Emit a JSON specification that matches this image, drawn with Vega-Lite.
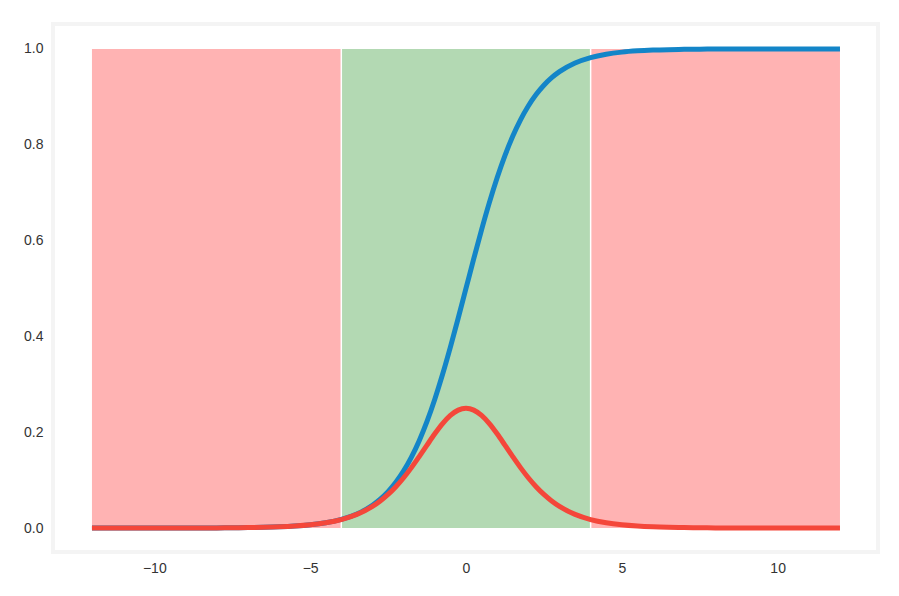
{
  "$schema": "https://vega.github.io/schema/vega-lite/v6.json",
  "width": 825,
  "height": 528,
  "autosize": {"type": "none"},
  "padding": {"left": 53, "top": 24, "right": 21, "bottom": 44},
  "background": "white",
  "config": {
    "view": {"stroke": "#f4f4f4", "strokeWidth": 4},
    "axis": {"grid": false, "domain": false, "ticks": false, "labelFont": "Liberation Sans", "labelFontSize": 14, "labelColor": "#333333"}
  },
  "datasets": {
    "regions": [
      {"x0": -12, "x1": -4, "zone": "out"},
      {"x0": -4, "x1": 4, "zone": "in"},
      {"x0": 4, "x1": 12, "zone": "out"}
    ],
    "bounds": [{"b": -4}, {"b": 4}],
    "curve": [
      {"x": -12, "s": 0.0000061, "d": 0.0000061},
      {"x": -11, "s": 0.0000167, "d": 0.0000167},
      {"x": -10, "s": 0.0000454, "d": 0.0000454},
      {"x": -9, "s": 0.0001234, "d": 0.0001234},
      {"x": -8.5, "s": 0.0002035, "d": 0.0002035},
      {"x": -8, "s": 0.0003354, "d": 0.0003353},
      {"x": -7.5, "s": 0.000553, "d": 0.000553},
      {"x": -7, "s": 0.000911, "d": 0.00091},
      {"x": -6.5, "s": 0.001501, "d": 0.001499},
      {"x": -6, "s": 0.002473, "d": 0.002467},
      {"x": -5.5, "s": 0.00407, "d": 0.004054},
      {"x": -5, "s": 0.006693, "d": 0.006648},
      {"x": -4.5, "s": 0.01099, "d": 0.01087},
      {"x": -4, "s": 0.01799, "d": 0.01766},
      {"x": -3.5, "s": 0.02931, "d": 0.02845},
      {"x": -3, "s": 0.04743, "d": 0.04518},
      {"x": -2.75, "s": 0.06009, "d": 0.05648},
      {"x": -2.5, "s": 0.07586, "d": 0.0701},
      {"x": -2.25, "s": 0.09535, "d": 0.08626},
      {"x": -2, "s": 0.1192, "d": 0.10499},
      {"x": -1.75, "s": 0.14805, "d": 0.12613},
      {"x": -1.5, "s": 0.18243, "d": 0.14915},
      {"x": -1.25, "s": 0.2227, "d": 0.1731},
      {"x": -1, "s": 0.26894, "d": 0.19661},
      {"x": -0.75, "s": 0.32082, "d": 0.2179},
      {"x": -0.5, "s": 0.37754, "d": 0.235},
      {"x": -0.25, "s": 0.43782, "d": 0.24613},
      {"x": 0, "s": 0.5, "d": 0.25},
      {"x": 0.25, "s": 0.56218, "d": 0.24613},
      {"x": 0.5, "s": 0.62246, "d": 0.235},
      {"x": 0.75, "s": 0.67918, "d": 0.2179},
      {"x": 1, "s": 0.73106, "d": 0.19661},
      {"x": 1.25, "s": 0.7773, "d": 0.1731},
      {"x": 1.5, "s": 0.81757, "d": 0.14915},
      {"x": 1.75, "s": 0.85195, "d": 0.12613},
      {"x": 2, "s": 0.8808, "d": 0.10499},
      {"x": 2.25, "s": 0.90465, "d": 0.08626},
      {"x": 2.5, "s": 0.92414, "d": 0.0701},
      {"x": 2.75, "s": 0.93991, "d": 0.05648},
      {"x": 3, "s": 0.95257, "d": 0.04518},
      {"x": 3.5, "s": 0.97069, "d": 0.02845},
      {"x": 4, "s": 0.98201, "d": 0.01766},
      {"x": 4.5, "s": 0.98901, "d": 0.01087},
      {"x": 5, "s": 0.993307, "d": 0.006648},
      {"x": 5.5, "s": 0.99593, "d": 0.004054},
      {"x": 6, "s": 0.997527, "d": 0.002467},
      {"x": 6.5, "s": 0.998499, "d": 0.001499},
      {"x": 7, "s": 0.999089, "d": 0.00091},
      {"x": 7.5, "s": 0.999447, "d": 0.000553},
      {"x": 8, "s": 0.999665, "d": 0.0003353},
      {"x": 8.5, "s": 0.999797, "d": 0.0002035},
      {"x": 9, "s": 0.999877, "d": 0.0001234},
      {"x": 10, "s": 0.999955, "d": 0.0000454},
      {"x": 11, "s": 0.999983, "d": 0.0000167},
      {"x": 12, "s": 0.999994, "d": 0.0000061}
    ]
  },
  "layer": [
    {
      "data": {"name": "regions"},
      "mark": {"type": "rect", "opacity": 1},
      "encoding": {
        "x": {"field": "x0", "type": "quantitative", "scale": {"domain": [-13.25, 13.22], "nice": false, "zero": false}, "axis": {"values": [-10, -5, 0, 5, 10], "title": null, "labelPadding": 9}},
        "x2": {"field": "x1"},
        "y": {"datum": 0, "type": "quantitative", "scale": {"domain": [-0.05, 1.052], "nice": false, "zero": false}, "axis": {"values": [0, 0.2, 0.4, 0.6, 0.8, 1.0], "format": ".1f", "title": null, "labelPadding": 10}},
        "y2": {"datum": 1},
        "color": {"field": "zone", "type": "nominal", "scale": {"domain": ["out", "in"], "range": ["#ffb3b3", "#b3d9b3"]}, "legend": null}
      }
    },
    {
      "data": {"name": "bounds"},
      "mark": {"type": "rule", "color": "white", "strokeWidth": 1.5},
      "encoding": {
        "x": {"field": "b", "type": "quantitative"},
        "y": {"datum": 0},
        "y2": {"datum": 1}
      }
    },
    {
      "data": {"name": "curve"},
      "mark": {"type": "line", "color": "#1385c8", "strokeWidth": 5, "interpolate": "monotone"},
      "encoding": {
        "x": {"field": "x", "type": "quantitative"},
        "y": {"field": "s", "type": "quantitative"}
      }
    },
    {
      "data": {"name": "curve"},
      "mark": {"type": "line", "color": "#f4473a", "strokeWidth": 5, "interpolate": "monotone"},
      "encoding": {
        "x": {"field": "x", "type": "quantitative"},
        "y": {"field": "d", "type": "quantitative"}
      }
    }
  ]
}
